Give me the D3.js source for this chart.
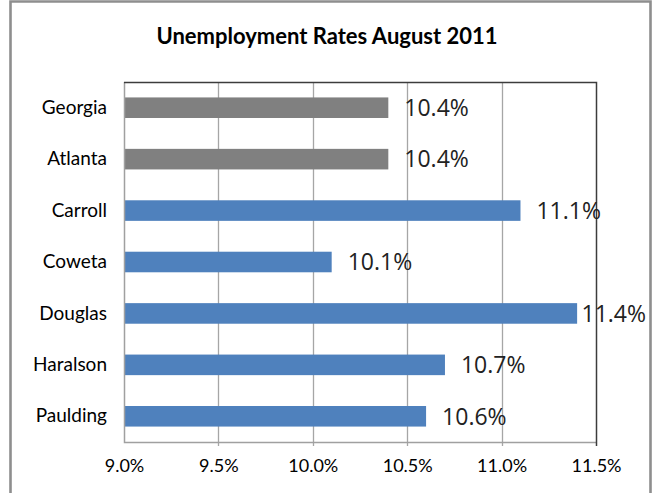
<!DOCTYPE html>
<html>
<head>
<meta charset="utf-8">
<script src="https://cdn.jsdelivr.net/npm/d3@7/dist/d3.min.js"></script>
<style>
  html, body { margin: 0; padding: 0; background: #fff; }
  svg { display: block; }
</style>
</head>
<body>
<script>
// Unemployment rates, August 2011 (percent)
const categories = ["Georgia", "Atlanta", "Carroll", "Coweta", "Douglas", "Haralson", "Paulding"];
const rates = [10.4, 10.4, 11.1, 10.1, 11.4, 10.7, 10.6];
const groups = ["state", "metro", "county", "county", "county", "county", "county"];
const tickValues = [9.0, 9.5, 10.0, 10.5, 11.0, 11.5];
const title = "Unemployment Rates August 2011";

const W = 657, H = 493;
const plot = { left: 124, right: 596, top: 82, bottom: 442 };
const chartRight = 646;

const svg = d3.select("body").append("svg").attr("width", W).attr("height", H);

// outer frame (bottom edge runs off the page)
svg.append("path")
  .attr("d", `M10.5,${H + 5} V1.5 H650.5 V${H + 5}`)
  .attr("fill", "none").attr("stroke", "#8e8e8e").attr("stroke-width", 2.6);

svg.append("text")
  .attr("x", 327).attr("y", 44)
  .attr("text-anchor", "middle")
  .attr("font-family", "Lato, 'Open Sans', sans-serif")
  .attr("font-weight", "bold")
  .attr("font-size", 22)
  .attr("fill", "#000")
  .text(title);

const x = d3.scaleLinear().domain([9.0, 11.5]).range([plot.left, plot.right]);
const y = d3.scaleBand().domain(categories).range([plot.top, plot.bottom]).paddingInner(0.6).paddingOuter(0.3);

// vertical gridlines
svg.append("g").selectAll("line").data(tickValues.slice(1, -1)).join("line")
  .attr("x1", d => Math.round(x(d)) + 0.5).attr("x2", d => Math.round(x(d)) + 0.5)
  .attr("y1", plot.top).attr("y2", plot.bottom + 4)
  .attr("stroke", "#a6a6a6").attr("stroke-width", 1.3);

// bars
svg.append("g").selectAll("rect").data(categories).join("rect")
  .attr("x", x(9.0))
  .attr("y", d => y(d))
  .attr("width", (d, i) => x(rates[i]) - x(9.0))
  .attr("height", y.bandwidth())
  .attr("fill", (d, i) => groups[i] === "county" ? "#4f81bd" : "#808080");

// plot frame: gray axis lines on left/bottom, dark edges on top/right
svg.append("path")
  .attr("d", `M${plot.left + 0.5},${plot.top} V${plot.bottom + 0.5} H${plot.right}`)
  .attr("fill", "none").attr("stroke", "#a0a0a0").attr("stroke-width", 1.5);
svg.append("path")
  .attr("d", `M${plot.left},${plot.top + 0.5} H${plot.right + 0.5} V${plot.bottom + 4}`)
  .attr("fill", "none").attr("stroke", "#3c3c3c").attr("stroke-width", 1.5);

// x axis tick labels
const xAxis = d3.axisBottom(x).tickValues(tickValues).tickSize(0).tickPadding(0)
  .tickFormat(d => d.toFixed(1) + "%");
const gx = svg.append("g").attr("transform", `translate(0,${plot.bottom + 17})`).call(xAxis);
gx.select(".domain").remove();
gx.selectAll("text")
  .attr("dy", "0.71em")
  .attr("font-family", "Lato, 'Open Sans', sans-serif")
  .attr("font-size", 18)
  .attr("fill", "#000");

// category labels
const yAxis = d3.axisLeft(y).tickSize(0).tickPadding(0);
const gy = svg.append("g").attr("transform", `translate(${plot.left - 17},0)`).call(yAxis);
gy.select(".domain").remove();
gy.selectAll("text")
  .attr("font-family", "Lato, 'Open Sans', sans-serif")
  .attr("font-size", 19)
  .attr("fill", "#000");

// value labels, kept inside the chart's right edge
svg.append("g").selectAll("text").data(categories).join("text")
  .attr("y", d => y(d) + y.bandwidth() / 2)
  .attr("dy", "0.36em")
  .attr("font-family", "'Open Sans', sans-serif")
  .attr("font-size", 23)
  .attr("fill", "#222")
  .text((d, i) => rates[i].toFixed(1) + "%")
  .attr("x", function (d, i) {
    const w = this.getComputedTextLength();
    return Math.min(x(rates[i]) + 16, chartRight - w);
  });
</script>
</body>
</html>
